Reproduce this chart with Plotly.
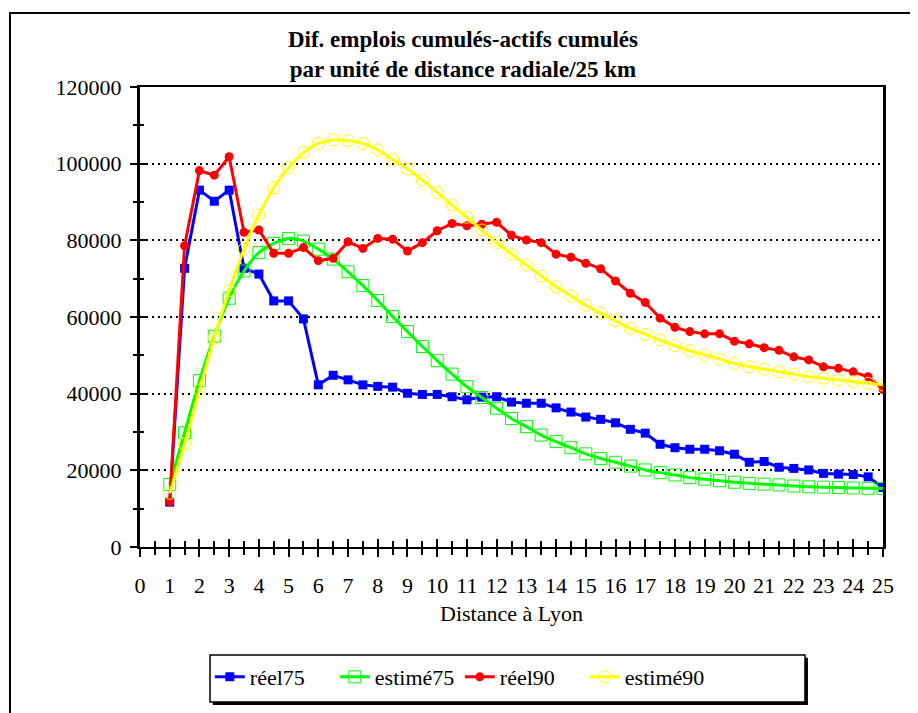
import plotly.graph_objects as go

# distance à Lyon (unités de 25 km)
distance = [1, 1.5, 2, 2.5, 3, 3.5, 4, 4.5, 5, 5.5, 6, 6.5, 7, 7.5, 8, 8.5, 9, 9.5,
            10, 10.5, 11, 11.5, 12, 12.5, 13, 13.5, 14, 14.5, 15, 15.5, 16, 16.5,
            17, 17.5, 18, 18.5, 19, 19.5, 20, 20.5, 21, 21.5, 22, 22.5, 23, 23.5,
            24, 24.5, 25]

reel75 = [11700, 72700, 93100, 90200, 93100, 72700, 71200, 64200, 64200, 59500,
          42300, 44800, 43600, 42300, 41900, 41700, 40100, 39800, 39800, 39200,
          38400, 39100, 39200, 37800, 37500, 37500, 36300, 35200, 33900, 33300,
          32400, 30700, 29700, 26800, 25900, 25500, 25500, 25100, 24200, 22100,
          22300, 20800, 20500, 20100, 19200, 19000, 18900, 18300, 15500]

estime75 = [16300, 29800, 43400, 55000, 64900, 72000, 76800, 79200, 80500, 79800,
            77700, 75100, 71800, 68200, 64300, 60100, 56200, 52300, 48600, 45100,
            41800, 39000, 36200, 33500, 31400, 29200, 27500, 25900, 24300, 23100,
            22100, 21100, 20100, 19400, 18800, 18100, 17700, 17300, 16900, 16600,
            16400, 16200, 15900, 15700, 15600, 15500, 15400, 15300, 15300]

reel90 = [11800, 78600, 98200, 97000, 101800, 82100, 82700, 76600, 76600, 78100,
          74700, 75300, 79600, 77900, 80500, 80300, 77200, 79400, 82500, 84400,
          83800, 84200, 84700, 81300, 80100, 79400, 76400, 75600, 74000, 72600,
          69400, 66200, 63800, 59700, 57300, 56200, 55600, 55600, 53700, 53000,
          52000, 51300, 49600, 48800, 47000, 46600, 45700, 44400, 41100]

estime90 = [14000, 26900, 41000, 54600, 66900, 77700, 86600, 93700, 99000, 102900,
            105300, 106200, 106000, 105300, 103600, 101100, 98600, 95700, 92500, 89200,
            86000, 82700, 79400, 76400, 73600, 70700, 67900, 65500, 63100, 61000,
            59000, 57000, 55500, 54000, 52500, 51200, 50100, 49000, 47900, 47000,
            46400, 45700, 45100, 44400, 44000, 43600, 43100, 42700, 42300]

serif = "Liberation Serif, Times New Roman, serif"
fs = 22

fig = go.Figure()
fig.add_trace(go.Scatter(x=distance, y=reel75, name="réel75", mode="lines+markers",
                         line=dict(color="#0000ff", width=3),
                         marker=dict(symbol="square", size=9, color="#0000ff")))
fig.add_trace(go.Scatter(x=distance, y=estime75, name="estimé75", mode="lines+markers",
                         line=dict(color="#00ff00", width=3, shape="spline"),
                         marker=dict(symbol="square-open", size=12, color="#00ff00",
                                     line=dict(width=1))))
fig.add_trace(go.Scatter(x=distance, y=reel90, name="réel90", mode="lines+markers",
                         line=dict(color="#ff0000", width=3),
                         marker=dict(symbol="circle", size=9, color="#ff0000"),
                         xaxis="x2", yaxis="y2"))
fig.add_trace(go.Scatter(x=distance, y=estime90, name="estimé90", mode="lines+markers",
                         line=dict(color="#ffff00", width=3, shape="spline"),
                         marker=dict(symbol="circle-open", size=12, color="#ffff00",
                                     line=dict(width=1)),
                         xaxis="x2", yaxis="y2"))

axis_common = dict(showline=True, linecolor="black", ticks="outside", tickcolor="black",
                   zeroline=False, tickfont=dict(family=serif, size=fs, color="black"))

# the page body has an 8px margin, so the figure is drawn 8px in
fig.update_layout(
    width=910, height=705,
    margin=dict(l=132, r=35, t=79, b=166),
    paper_bgcolor="white", plot_bgcolor="white",
    font=dict(family=serif, size=fs, color="black"),
    title=dict(text="<b>Dif. emplois cumulés-actifs cumulés<br>par unité de distance radiale/25 km</b>",
               x=0.5, xref="container", xanchor="center", y=0.944, yanchor="top",
               font=dict(family=serif, size=23, color="black")),
    xaxis=dict(range=[0, 25], dtick=1, tick0=0, ticklen=8, tickwidth=2, linewidth=2,
               mirror=True, showgrid=False, ticklabelstandoff=10,
               minor=dict(dtick=0.5, ticks="outside", ticklen=6, tickwidth=2,
                          tickcolor="black", showgrid=False),
               title=dict(text="Distance à Lyon", standoff=8,
                          font=dict(family=serif, size=fs, color="black")),
               **axis_common),
    yaxis=dict(range=[0, 120000], dtick=20000, tickformat="d", ticklen=7, tickwidth=2,
               linewidth=3, mirror=True, showgrid=True, gridcolor="black", gridwidth=2,
               griddash="2px,4px", ticklabelstandoff=4,
               minor=dict(dtick=10000, ticks="outside", ticklen=4, tickwidth=2,
                          tickcolor="black", showgrid=False),
               **axis_common),
    xaxis2=dict(range=[0, 25], dtick=1, overlaying="x", ticks="inside", ticklen=8,
                tickwidth=2, tickcolor="black", showticklabels=False, showgrid=False,
                zeroline=False, showline=False,
                minor=dict(dtick=0.5, ticks="inside", ticklen=6, tickwidth=2,
                           tickcolor="black")),
    yaxis2=dict(range=[0, 120000], dtick=20000, overlaying="y", ticks="inside", ticklen=7,
                tickwidth=2, tickcolor="black", showticklabels=False, showgrid=False,
                zeroline=False, showline=False,
                minor=dict(dtick=10000, ticks="inside", ticklen=4, tickwidth=2,
                           tickcolor="black")),
    legend=dict(orientation="h", x=0.094, xanchor="left", y=-0.237, yanchor="top",
                bgcolor="rgba(0,0,0,0)", borderwidth=0,
                entrywidth=80, entrywidthmode="pixels",
                font=dict(family=serif, size=fs, color="black")),
    showlegend=True,
)

# cadre extérieur du graphique
fig.add_shape(type="rect", xref="paper", yref="paper", x0=-0.175, x1=1.2, y0=-0.4, y1=1.161,
              line=dict(color="black", width=2), layer="below")
# cadre de la légende avec ombre
fig.add_shape(type="rect", xref="paper", yref="paper", x0=0.098, x1=0.899, y0=-0.3435, y1=-0.241,
              line=dict(width=0), fillcolor="black", layer="below")
fig.add_shape(type="rect", xref="paper", yref="paper", x0=0.0942, x1=0.895, y0=-0.337, y1=-0.2348,
              line=dict(color="black", width=1.5), fillcolor="white", layer="below")

fig.write_html("out.html")
